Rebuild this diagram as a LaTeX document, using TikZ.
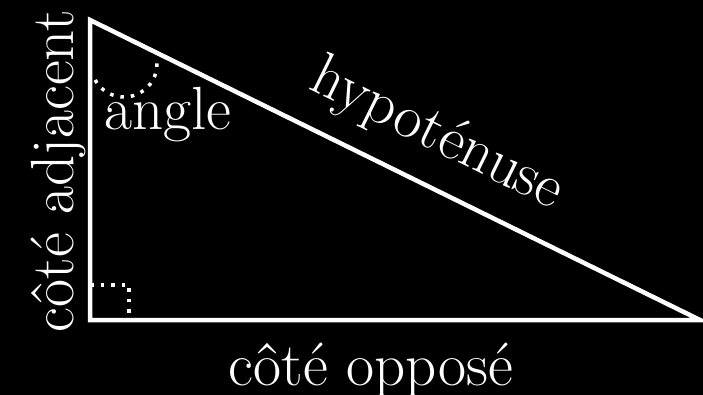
\documentclass[tikz,border=0pt]{standalone}
\usepackage{fontspec}
\begin{document}
\begin{tikzpicture}[x=1pt,y=-1pt,
  side/.style={draw=white,line width=4.5pt,line join=miter},
  dotline/.style={draw=white,line width=3.5pt,dash pattern=on 3.5pt off 7pt},
  lbl/.style={text=white,inner sep=0pt,font=\fontsize{61}{66}\selectfont}]
\fill[black] (0,0) rectangle (703,395);
\useasboundingbox (0,0) rectangle (703,395);
\coordinate (A) at (90,20);
\coordinate (B) at (90,320);
\coordinate (C) at (700,320);
\draw[side] (A) -- (B) -- (C) -- cycle;
\draw[dotline] (124,64) ++(151:33) arc[start angle=151,end angle=-2,radius=33];
\draw[dotline] (90,285) -- (129,285) -- (129,320);
\node[lbl,anchor=base] (ang) at (168,130) {angle};
\node[lbl,anchor=base] (opp) at (371,385) {côté opposé};
\node[lbl,anchor=base,rotate=90] (adj) at (73,171) {côté adjacent};
\node[lbl,anchor=base,rotate=-26.2] (hyp) at (430,149) {hypoténuse};
\end{tikzpicture}
\end{document}
